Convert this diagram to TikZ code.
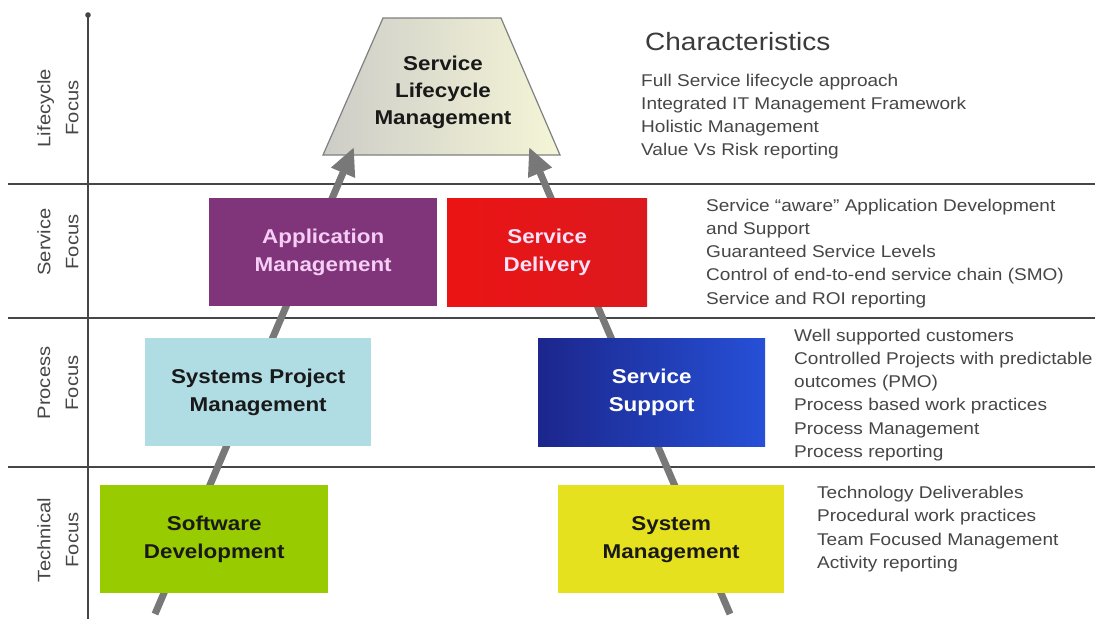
\documentclass[tikz,border=0pt]{standalone}
\usepackage{fontspec}
\setmainfont{Liberation Sans}[FakeStretch=1.12]
\usetikzlibrary{arrows.meta}
\definecolor{axisgray}{RGB}{70,70,70}
\definecolor{arrgray}{RGB}{120,120,120}
\definecolor{txtgray}{RGB}{70,70,70}
\definecolor{purp}{RGB}{128,53,122}
\definecolor{pinktxt}{RGB}{245,205,245}
\definecolor{lblue}{RGB}{176,220,228}
\definecolor{lgreen}{RGB}{153,204,0}
\definecolor{lyellow}{RGB}{230,225,30}
\definecolor{redL}{RGB}{235,20,20}
\definecolor{redR}{RGB}{220,25,30}
\definecolor{blueL}{RGB}{28,38,140}
\definecolor{blueR}{RGB}{38,80,215}
\definecolor{trapL}{RGB}{205,205,200}
\definecolor{trapR}{RGB}{245,245,215}
\definecolor{darktxt}{RGB}{25,25,25}
\tikzset{
  boxstyle/.style={draw=none, minimum width=227pt, minimum height=108pt, anchor=north west,
    align=center, font=\fontsize{20}{28}\selectfont\bfseries, inner sep=0pt},
  sidelabel/.style={rotate=90, align=center, font=\fontsize{18}{28}\selectfont, text=axisgray},
  bandline/.style={draw=axisgray, line width=2pt},
  chartext/.style={anchor=north west, align=left, text=txtgray, inner sep=0pt,
    font=\fontsize{17}{23.3}\selectfont},
  bigarrow/.style={draw=arrgray, line width=7pt, -{Triangle[width=24pt,length=28pt]}},
}
\begin{document}
\begin{tikzpicture}[x=1pt,y=-1pt]
\useasboundingbox (0,0) rectangle (1095,619);
\fill[white] (0,0) rectangle (1095,619);
% bands and axis
\coordinate (axtop) at (88,15);
\coordinate (axbot) at (88,619);
\draw[draw=axisgray, line width=2pt] (axbot) -- (axtop);
\fill[axisgray] (axtop) circle (2.8pt);
\coordinate (b1l) at (8,184); \coordinate (b1r) at (1095,184);
\coordinate (b2l) at (8,318); \coordinate (b2r) at (1095,318);
\coordinate (b3l) at (8,467); \coordinate (b3r) at (1095,467);
\draw[bandline] (b1l) -- (b1r);
\draw[bandline] (b2l) -- (b2r);
\draw[bandline] (b3l) -- (b3r);
% side labels
\node[sidelabel] (lblLife) at (58,108) {Lifecycle\\Focus};
\node[sidelabel] (lblServ) at (58,242) {Service\\Focus};
\node[sidelabel] (lblProc) at (58,383) {Process\\Focus};
\node[sidelabel] (lblTech) at (58,540) {Technical\\Focus};
% trapezoid
\coordinate (tTL) at (383,18); \coordinate (tTR) at (501,18);
\coordinate (tBR) at (560,155); \coordinate (tBL) at (323,155);
\shade[left color=trapL, right color=trapR] (tTL) -- (tTR) -- (tBR) -- (tBL) -- cycle;
\draw[draw=gray, line width=1.2pt] (tTL) -- (tTR) -- (tBR) -- (tBL) -- cycle;
\node[align=center, font=\fontsize{20}{27}\selectfont\bfseries, text=darktxt] (slm) at (443,92)
  {Service\\Lifecycle\\Management};
% arrows
\coordinate (lstart) at (155,614);
\coordinate (ltip) at (354,147);
\coordinate (rstart) at (730,614);
\coordinate (rtip) at (529,147);
\draw[bigarrow] (lstart) -- (ltip);
\draw[bigarrow] (rstart) -- (rtip);
% boxes
\node[boxstyle, fill=purp, text=pinktxt, minimum width=228pt] (appm) at (209,198) {Application\\Management};
\node[boxstyle, left color=redL, right color=redR, text=pinktxt!60!white, minimum width=200pt] (sdel) at (447,198) {Service\\Delivery};
\node[boxstyle, fill=lblue, text=darktxt, minimum width=226pt] (spm) at (145,338) {Systems Project\\Management};
\node[boxstyle, left color=blueL, right color=blueR, text=white, minimum width=227pt] (ssup) at (538,338) {Service\\Support};
\node[boxstyle, fill=lgreen, text=darktxt, minimum width=228pt] (swd) at (100,485) {Software\\Development};
\node[boxstyle, fill=lyellow, text=darktxt, minimum width=226pt] (sysm) at (558,485) {System\\Management};
% characteristics
\node[anchor=north west, inner sep=0pt, text=darktxt!85!white, font=\fontsize{25}{30}\selectfont] (chtitle) at (645,32) {Characteristics};
\node[chartext] (chLife) at (641,73.5) {Full Service lifecycle approach\\Integrated IT Management Framework\\Holistic Management\\Value Vs Risk reporting};
\node[chartext] (chServ) at (706,198.5) {Service ``aware'' Application Development\\and Support\\Guaranteed Service Levels\\Control of end-to-end service chain (SMO)\\Service and ROI reporting};
\node[chartext] (chProc) at (794,328.5) {Well supported customers\\Controlled Projects with predictable\\outcomes (PMO)\\Process based work practices\\Process Management\\Process reporting};
\node[chartext] (chTech) at (817,486) {Technology Deliverables\\Procedural work practices\\Team Focused Management\\Activity reporting};
\end{tikzpicture}
\end{document}
